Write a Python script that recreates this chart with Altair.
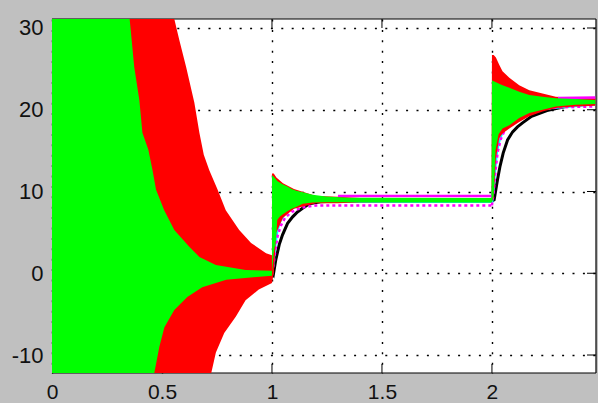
import altair as alt
import pandas as pd

# ---- axis layout ----
x_ticks = [0.5, 1, 1.5, 2]
x_labels_at = [0, 0.5, 1, 1.5, 2]
y_ticks = [-10, 0, 10, 20, 30]

# ---- t < 1 : oscillating signals, envelope edges (value measured from 0) ----
red_up_t = [0.0, 0.50, 0.556, 0.579, 0.61, 0.647, 0.67, 0.69, 0.715, 0.753, 0.79, 0.851, 0.905, 0.973, 1.0]
red_up_v = [200, 37.5, 31.1, 28.5, 25.2, 20.9, 17.2, 14.5, 12.6, 10.2, 7.7, 5.3, 3.7, 2.45, 2.2]

red_lo_t = [0.0, 0.70, 0.724, 0.745, 0.783, 0.836, 0.88, 0.94, 1.0]
red_lo_v = [-300, -15.5, -12.2, -9.7, -7.3, -5.3, -3.3, -2.0, -1.2]

green_up_t = [0.0, 0.30, 0.353, 0.374, 0.397, 0.411, 0.438, 0.457, 0.473, 0.51, 0.556, 0.624, 0.67, 0.745, 0.88, 1.0]
green_up_v = [300, 46, 31.1, 25.2, 21.2, 17.2, 15.1, 12.6, 10.2, 7.7, 5.3, 3.25, 2.0, 1.0, 0.4, 0.3]

green_lo_t = [0.0, 0.40, 0.465, 0.488, 0.511, 0.556, 0.615, 0.683, 0.792, 0.93, 1.0]
green_lo_v = [-200, -21, -12.2, -9.0, -6.6, -4.5, -2.9, -1.7, -0.8, -0.45, -0.3]

# ---- t >= 1 : oscillating signals as bands ----
red_t = [1.0, 1.008, 1.02, 1.05, 1.1, 1.2, 1.3, 1.4, 1.998,
         2.0, 2.008, 2.018, 2.033, 2.048, 2.079, 2.124, 2.17, 2.23, 2.29, 2.38, 2.47]
red_hi = [12.2, 12.2, 11.7, 11.0, 10.3, 9.45, 9.35, 9.2, 9.1,
          26.7, 26.7, 26.4, 25.5, 24.7, 23.9, 23.0, 22.4, 22.0, 21.6, 21.45, 21.4]
red_lo = [-1.2, 0.0, 5.0, 6.8, 7.9, 8.55, 8.55, 8.7, 8.75,
          8.75, 9.3, 14.0, 16.5, 17.1, 17.7, 18.5, 19.2, 19.8, 20.2, 20.4, 20.5]

green_t = [1.0, 1.008, 1.018, 1.024, 1.035, 1.048, 1.07, 1.09, 1.11, 1.14, 1.185, 1.245, 1.35, 1.998,
           2.0, 2.008, 2.016, 2.03, 2.048, 2.079, 2.124, 2.17, 2.23, 2.29, 2.38, 2.47]
green_hi = [12.0, 11.8, 11.5, 11.3, 11.1, 10.9, 10.6, 10.3, 10.1, 9.9, 9.6, 9.4, 9.25, 9.2,
            23.6, 23.5, 23.4, 23.2, 23.0, 22.7, 22.2, 21.8, 21.6, 21.4, 21.3, 21.2]
green_lo = [0.0, 2.5, 4.0, 6.5, 6.9, 7.2, 7.6, 7.9, 8.1, 8.5, 8.65, 8.7, 8.7, 8.65,
            8.75, 9.5, 15.0, 17.0, 17.7, 18.1, 19.0, 19.6, 20.0, 20.4, 20.6, 20.7]

# ---- smooth responses ----
black_t = [0.0, 1.0, 1.006, 1.017, 1.033, 1.048, 1.071, 1.094, 1.116, 1.139, 1.17, 1.22, 1.3, 1.998,
           2.0, 2.01, 2.025, 2.036, 2.051, 2.071, 2.094, 2.116, 2.139, 2.18, 2.25, 2.35, 2.47]
black_v = [0.0, 0.0, -0.2, 1.6, 3.5, 4.7, 6.1, 6.9, 7.5, 7.95, 8.5, 8.75, 8.85, 8.85,
           8.85, 9.0, 11.4, 13.0, 14.7, 16.3, 17.3, 17.9, 18.4, 19.2, 19.9, 20.5, 20.8]

cyan_t = [0.0, 1.0, 1.006, 1.014, 1.022, 1.03, 1.04, 1.055, 1.075, 1.1, 1.14, 1.2, 1.998,
          2.0, 2.006, 2.014, 2.022, 2.032, 2.045, 2.06, 2.085, 2.12, 2.2, 2.47]
cyan_v = [0.0, 0.0, 1.5, 3.5, 5.0, 5.9, 6.6, 7.2, 7.7, 8.1, 8.5, 8.8, 8.8,
          8.8, 10.5, 13.0, 15.0, 16.2, 17.2, 17.9, 18.6, 19.3, 20.1, 20.7]

mag_lo_seg = ["a"] * 10 + ["b"] * 11
mag_lo_t = [1.0, 1.008, 1.016, 1.026, 1.04, 1.06, 1.09, 1.13, 1.2, 1.998,
            2.0, 2.008, 2.016, 2.026, 2.04, 2.06, 2.09, 2.13, 2.2, 2.3, 2.47]
mag_lo_v = [0.0, 1.2, 3.0, 4.6, 5.8, 6.8, 7.5, 8.0, 8.3, 8.3,
            8.3, 10.0, 12.5, 14.8, 16.4, 17.6, 18.5, 19.2, 19.9, 20.3, 20.4]

mag_hi_seg = ["a", "a", "b", "b"]
mag_hi_t = [1.3, 1.998, 2.3, 2.47]
mag_hi_v = [9.45, 9.45, 21.45, 21.5]

# ---- scales / axes ----
xs = alt.Scale(domain=[0, 2.473], nice=False, zero=False)
ys = alt.Scale(domain=[-12.2, 31.1], nice=False, zero=False)
FONT = "Liberation Sans Narrow, Liberation Sans, Arial, sans-serif"

x_axis = alt.Axis(values=x_labels_at, format="~g", title=None, grid=True, ticks=False,
                  domain=False, labelFont=FONT, labelFontSize=21, labelColor="#111",
                  labelPadding=8, labelFlush=False, labelOverlap=False,
                  gridColor="black", gridDash=[2, 8.4], gridWidth=1.4)
y_axis = alt.Axis(values=y_ticks, title=None, grid=True, ticks=False, domain=False,
                  labelFont=FONT, labelFontSize=22, labelColor="#111", labelPadding=9,
                  labelOverlap=False,
                  labelExpr="datum.value < 0 ? '-' + abs(datum.value) : '' + datum.value",
                  gridColor="black", gridDash=[2, 8.4], gridWidth=1.4)

W, H = 544, 354
TICK = 9

xt_df = pd.DataFrame({"t": x_ticks})
yt_df = pd.DataFrame({"v": y_ticks})

bottom_ticks = alt.Chart(xt_df).mark_rule(color="black").encode(
    x=alt.X("t:Q", scale=xs, axis=x_axis), y=alt.value(H), y2=alt.value(H - TICK))
top_ticks = alt.Chart(xt_df).mark_rule(color="black").encode(
    x=alt.X("t:Q", scale=xs), y=alt.value(0), y2=alt.value(TICK))
right_ticks = alt.Chart(yt_df).mark_rule(color="black").encode(
    y=alt.Y("v:Q", scale=ys, axis=y_axis), x=alt.value(W), x2=alt.value(W - TICK))

frame_df = pd.DataFrame({"k": [0]})
frame_top = alt.Chart(frame_df).mark_rule(color="black", strokeWidth=1.2).encode(
    x=alt.value(0), x2=alt.value(W), y=alt.value(0))
frame_bottom = alt.Chart(frame_df).mark_rule(color="black", strokeWidth=1.2).encode(
    x=alt.value(0), x2=alt.value(W), y=alt.value(H))
frame_right = alt.Chart(frame_df).mark_rule(color="black", strokeWidth=1.2).encode(
    x=alt.value(W), y=alt.value(0), y2=alt.value(H))


def edge_area(ts, vs, color, base):
    # filled from the envelope edge to a base value just across zero, so the
    # upper and lower halves overlap without a seam
    df = pd.DataFrame({"t": ts, "v": vs})
    return alt.Chart(df).mark_area(color=color, clip=True, opacity=1).encode(
        x=alt.X("t:Q", scale=xs),
        y=alt.Y("v:Q", scale=ys),
        y2=alt.datum(base))


def band(ts, hi, lo, color):
    df = pd.DataFrame({"t": ts, "hi": hi, "lo": lo})
    return alt.Chart(df).mark_area(color=color, clip=True, opacity=1).encode(
        x=alt.X("t:Q", scale=xs),
        y=alt.Y("hi:Q", scale=ys),
        y2="lo:Q")


def trace(ts, vs, color, width, seg=None, dash=None):
    data = {"t": ts, "v": vs, "seg": seg if seg else ["a"] * len(ts)}
    kw = dict(color=color, strokeWidth=width, clip=True)
    if dash:
        kw["strokeDash"] = dash
    return alt.Chart(pd.DataFrame(data)).mark_line(**kw).encode(
        x=alt.X("t:Q", scale=xs),
        y=alt.Y("v:Q", scale=ys),
        detail="seg:N")


RED, GREEN = "#ff0000", "#00ff00"

chart = alt.layer(
    bottom_ticks, top_ticks, right_ticks, frame_top, frame_bottom, frame_right,
    trace(black_t, black_v, "black", 3),
    trace(cyan_t, cyan_v, "#00ffff", 3),
    trace(mag_lo_t, mag_lo_v, "#ff00ff", 2.5, seg=mag_lo_seg, dash=[3, 3]),
    edge_area(red_up_t, red_up_v, RED, -0.2),
    edge_area(red_lo_t, red_lo_v, RED, 0.2),
    band(red_t, red_hi, red_lo, RED),
    trace(mag_hi_t, mag_hi_v, "#ff00ff", 2.5, seg=mag_hi_seg),
    edge_area(green_up_t, green_up_v, GREEN, -0.15),
    edge_area(green_lo_t, green_lo_v, GREEN, 0.15),
    band(green_t, green_hi, green_lo, GREEN),
).properties(
    width=W, height=H,
    autosize=alt.AutoSizeParams(type="none"),
    padding={"left": 52, "top": 19, "right": 2, "bottom": 30},
    background="#c0c0c0",
).configure_view(fill="white", stroke=None)

chart.save("out.html", embed_options={"renderer": "svg", "actions": False})
